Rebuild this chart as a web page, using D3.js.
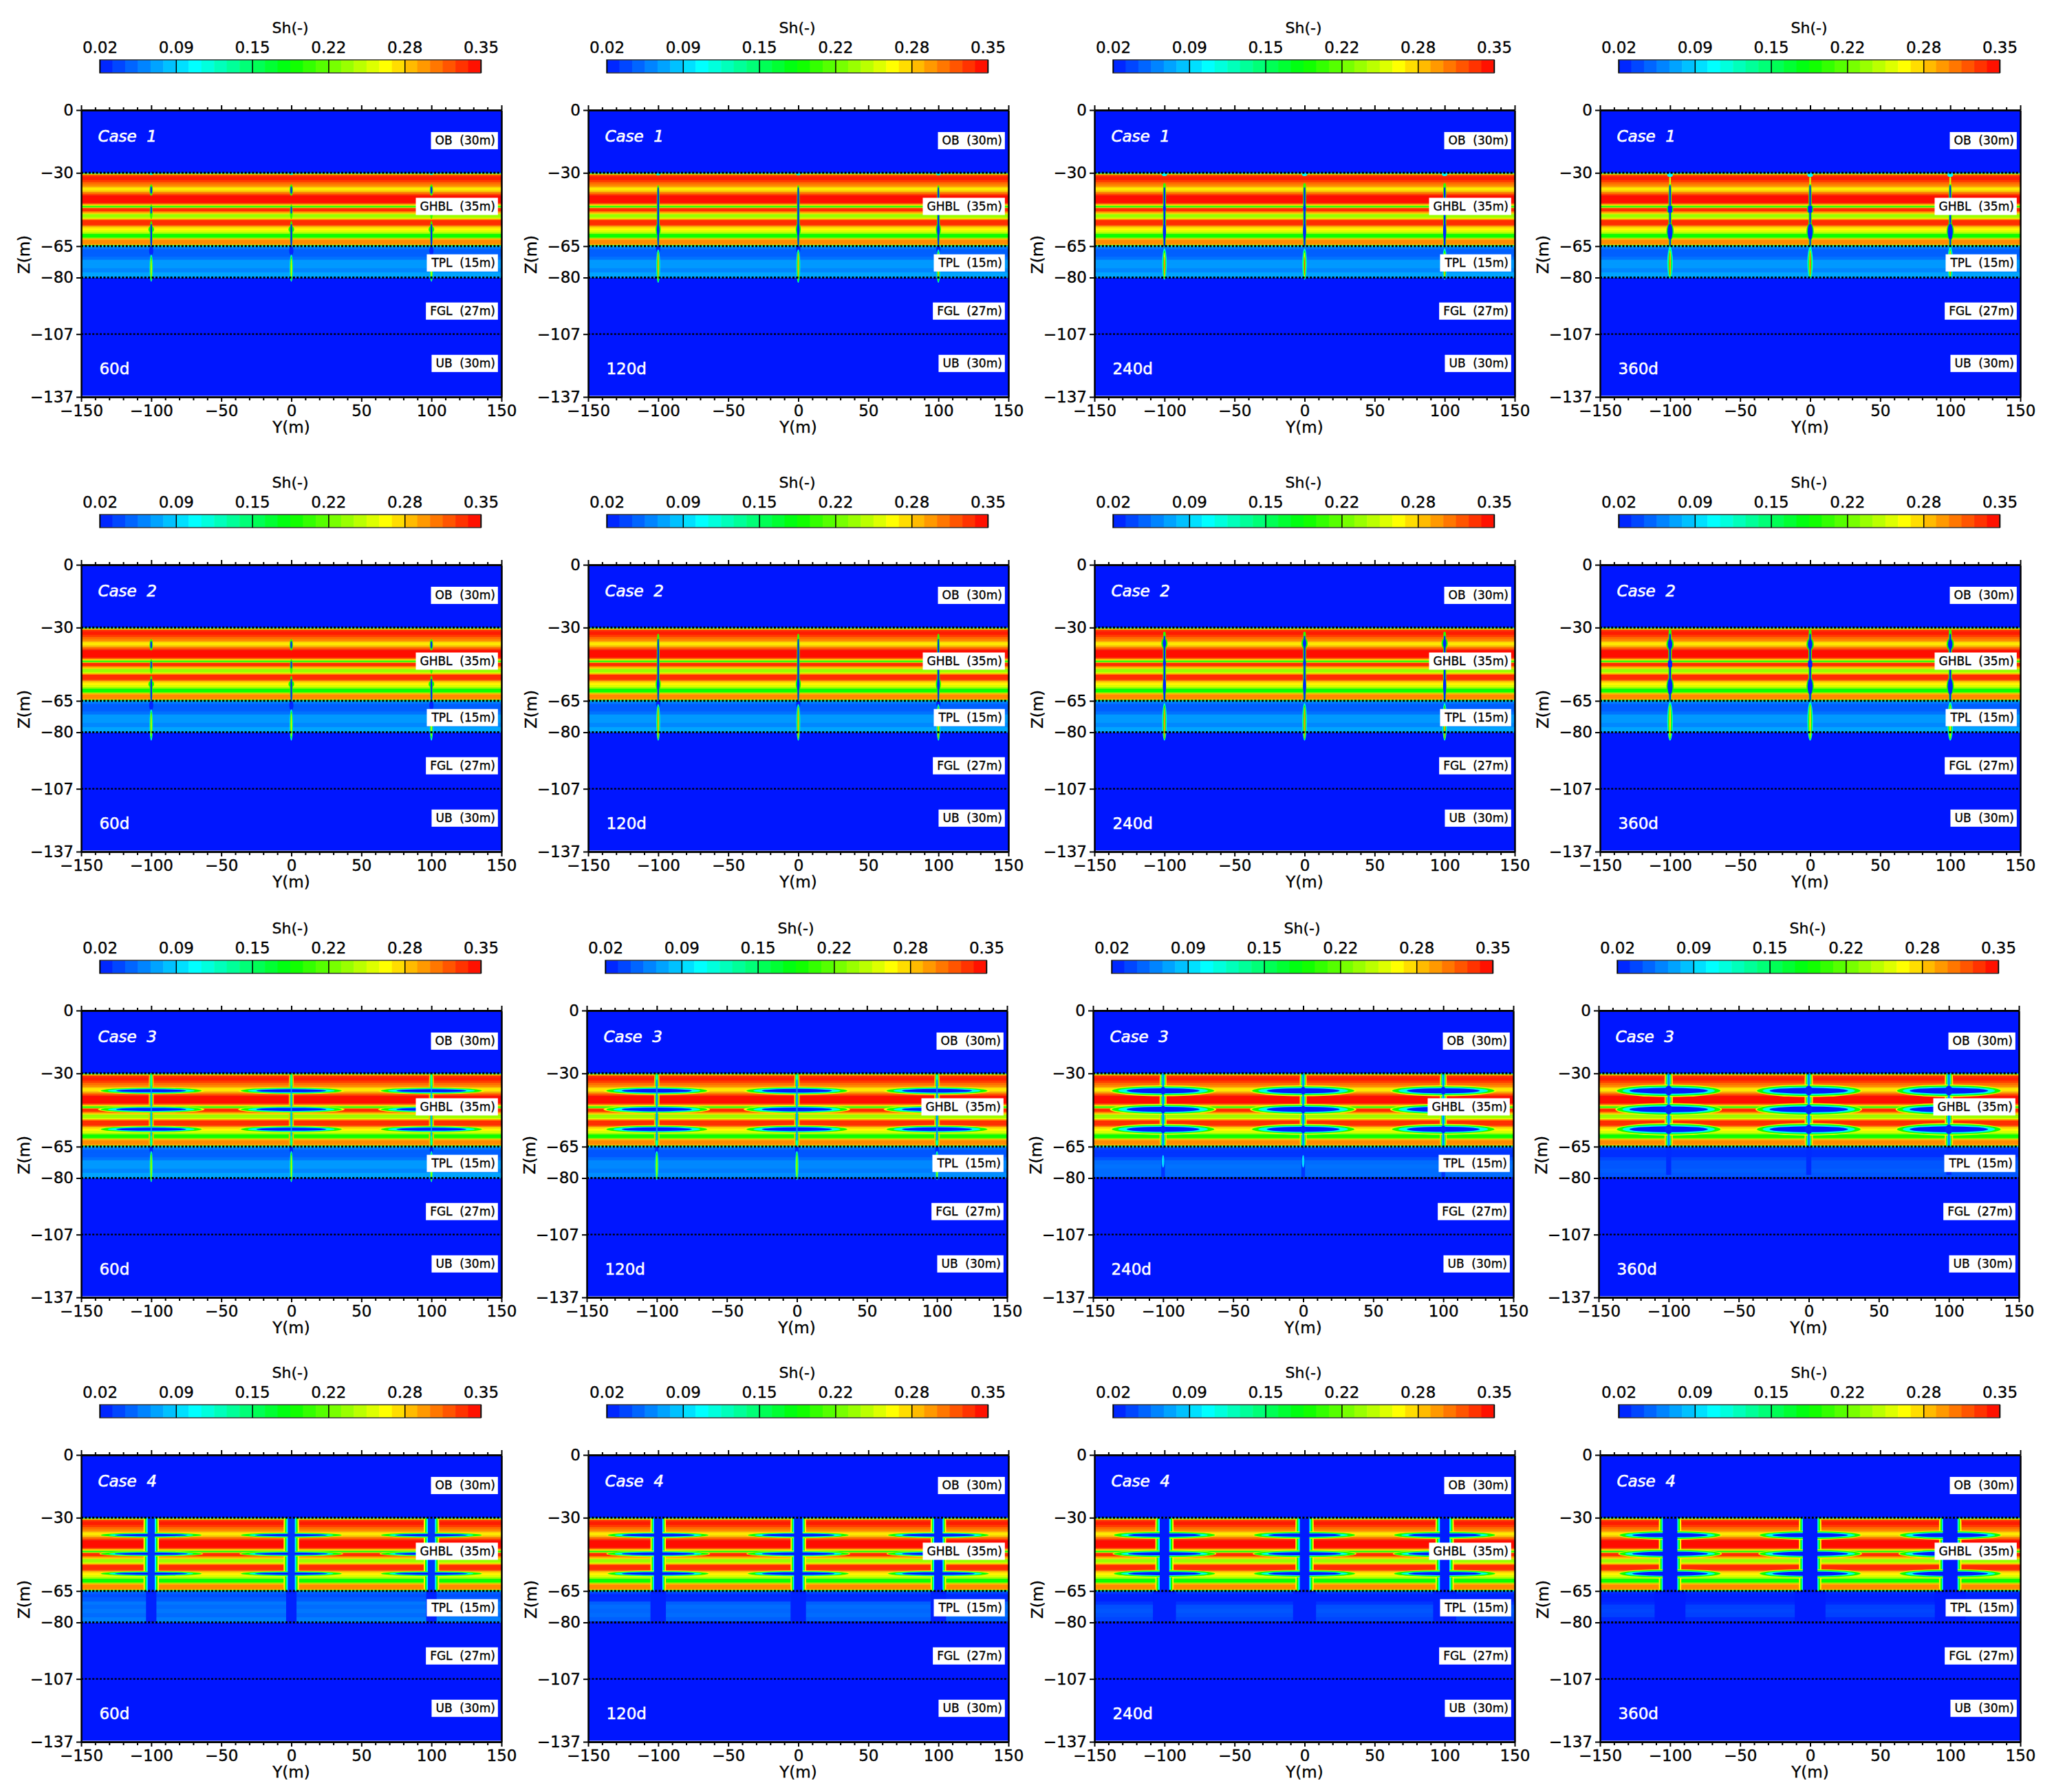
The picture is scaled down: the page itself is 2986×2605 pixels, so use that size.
<!DOCTYPE html>
<html>
<head>
<meta charset="utf-8">
<script src="https://cdn.jsdelivr.net/npm/d3@7"></script>
<style>
body { margin: 0; background: #fff; }
text { font-family: "DejaVu Sans", sans-serif; fill: #000; stroke: #000; stroke-width: 0.35px; }
.layer text, .layer { white-space: pre; }
</style>
</head>
<body>
<svg id="chart" width="2986" height="2605"></svg>
<script>
var caseNames = ["Case  1", "Case  2", "Case  3", "Case  4"];
var dayNames = ["60d", "120d", "240d", "360d"];
var xTicks = [-150, -100, -50, 0, 50, 100, 150];
var xMinor = [-140, -130, -120, -110, -90, -80, -70, -60, -40, -30, -20, -10, 10, 20, 30, 40, 60, 70, 80, 90, 110, 120, 130, 140];
var zTicks = [0, -30, -65, -80, -107, -137];
var barTicks = [0.02, 0.086, 0.152, 0.218, 0.284, 0.35];
var colorStops = [0.02, 0.1025, 0.185, 0.2675, 0.35];
var colorRange = ["#0018ff", "#00ffff", "#00ff00", "#ffff00", "#ff0000"];
var wellY = [-100, 0, 100];
var layerNames = ["OB  (30m)", "GHBL  (35m)", "TPL  (15m)", "FGL  (27m)", "UB  (30m)"];
var layerLabelZ = [-14.6, -46, -73, -96, -121];
var contactZ = [-30, -65, -80, -107];

// GHBL saturation bands, top of each band and Sh below it
var ghblTop = [-30, -30.3, -30.7, -31.1, -32, -33.5, -34.5, -35.5, -36.5, -37, -38.5, -39.2, -40, -40.8, -44.4, -45, -45.6, -45.9, -46.4, -46.8, -48.3, -48.9, -49.6, -50, -51.4, -51.9, -52.5, -55, -55.6, -56.5, -57.5, -58.5, -59.2, -60.8, -61.3, -62, -64, -64.5, -64.8];
var ghblSh = [0.13, 0.24, 0.30, 0.335, 0.34, 0.33, 0.315, 0.305, 0.29, 0.275, 0.285, 0.31, 0.33, 0.345, 0.32, 0.285, 0.24, 0.18, 0.25, 0.335, 0.31, 0.285, 0.245, 0.235, 0.26, 0.30, 0.335, 0.31, 0.28, 0.27, 0.255, 0.235, 0.19, 0.22, 0.29, 0.305, 0.29, 0.2, 0.12];

// TPL bands, one Sh list per panel
var tplTop = [-65, -65.5, -66.5, -68, -70, -71.5, -73.5, -75.5, -77.5, -79.5];
var tplFull = [0.08, 0.055, 0.045, 0.046, 0.052, 0.066, 0.066, 0.06, 0.07, 0.072];
var tplC3d120 = [0.075, 0.05, 0.042, 0.042, 0.05, 0.06, 0.06, 0.056, 0.062, 0.055];
var tplC3d240 = [0.07, 0.035, 0.03, 0.03, 0.04, 0.05, 0.052, 0.05, 0.05, 0.025];
var tplC3d360 = [0.06, 0.032, 0.028, 0.028, 0.036, 0.042, 0.042, 0.044, 0.042, 0.024];
var tplC4d60 = [0.065, 0.045, 0.04, 0.044, 0.054, 0.05, 0.054, 0.05, 0.056, 0.06];
var tplC4d120 = [0.065, 0.035, 0.026, 0.028, 0.045, 0.05, 0.048, 0.05, 0.045, 0.024];
var tplC4d240 = [0.055, 0.03, 0.024, 0.024, 0.03, 0.04, 0.042, 0.04, 0.036, 0.023];
var tplC4d360 = [0.05, 0.026, 0.023, 0.023, 0.026, 0.034, 0.036, 0.034, 0.026, 0.023];
var panelTpl = [
  [tplFull, tplFull, tplFull, tplFull],
  [tplFull, tplFull, tplFull, tplFull],
  [tplFull, tplC3d120, tplC3d240, tplC3d360],
  [tplC4d60, tplC4d120, tplC4d240, tplC4d360]
];

// low Sh patches at each well: half width, z top, z bottom, Sh, corner rounding
var c1d60 = [[1.3, -30, -31, 0.12, 1], [1.2, -35.5, -41, 0.2, 1], [0.6, -36.5, -40, 0.025, 1], [1, -45, -52, 0.2, 1], [0.5, -46, -49.5, 0.025, 1], [1.1, -53, -65, 0.2, 1], [2, -55.5, -58.5, 0.19, 1], [0.55, -54.5, -64.8, 0.025, 0.5], [1.5, -65, -69.5, 0.025, 1], [1.2, -69, -82, 0.12, 1], [0.8, -70, -81.5, 0.19, 1], [0.35, -71, -80.5, 0.27, 1]];
var c1d120 = [[1.5, -30, -31.2, 0.12, 1], [1, -36, -65, 0.2, 0.6], [1.8, -54, -60, 0.19, 1], [0.55, -37, -65, 0.025, 0.5], [0.9, -54.5, -60, 0.025, 1], [1.5, -65, -68, 0.025, 1], [1.4, -66.5, -82.5, 0.12, 1], [0.9, -67.5, -82, 0.19, 1], [0.45, -68, -81, 0.29, 1]];
var c1d240 = [[2, -30, -31.5, 0.1, 1], [1.1, -35, -65, 0.2, 0.4], [0.6, -37, -65, 0.025, 0.3], [1.1, -54, -62, 0.025, 1], [1, -45.5, -48.5, 0.025, 1], [1.6, -66, -81, 0.12, 1], [1, -67, -80.5, 0.19, 1], [0.5, -68, -80, 0.27, 1], [0.25, -70, -79, 0.33, 1]];
var c1d360 = [[2, -30, -32, 0.1, 1], [0.6, -32, -36, 0.25, 0.3], [1.1, -35.5, -65, 0.2, 0.4], [0.55, -36, -65, 0.03, 0.3], [2.2, -45.5, -49, 0.19, 0.6], [1.5, -45.7, -49, 0.025, 0.6], [2.6, -54, -62, 0.19, 1], [1.8, -54.2, -62, 0.025, 1], [0.8, -65, -67.5, 0.12, 0.3], [2, -65.5, -80.5, 0.12, 1], [1.2, -66.5, -80, 0.18, 1], [0.6, -67, -79.5, 0.27, 1], [0.25, -68, -79, 0.34, 1]];
var c2d60 = [[1.2, -35.5, -41, 0.2, 1], [0.6, -36.5, -40, 0.025, 1], [1, -45, -52, 0.2, 1], [0.5, -46, -49.5, 0.025, 1], [1.1, -53, -65, 0.2, 1], [2, -55.5, -58.5, 0.19, 1], [0.55, -54.5, -64.8, 0.025, 0.5], [1.5, -65, -69.5, 0.025, 1], [1.2, -69, -84, 0.12, 1], [0.8, -70, -83, 0.19, 1], [0.35, -71, -82, 0.27, 1]];
var c2d120 = [[1, -33, -65, 0.2, 0.6], [1.8, -54, -60, 0.19, 1], [0.55, -35.5, -65, 0.025, 0.5], [0.9, -54.5, -60, 0.025, 1], [1.5, -65, -68, 0.025, 1], [1.4, -66.5, -84, 0.12, 1], [0.9, -67.5, -83.5, 0.19, 1], [0.45, -68, -83, 0.29, 1]];
var c2d240 = [[1.1, -32, -65, 0.2, 0.4], [2.2, -35, -40, 0.19, 1], [0.6, -34, -65, 0.025, 0.3], [1.1, -54, -62, 0.025, 1], [1.2, -35.5, -39.5, 0.025, 1], [1, -45.5, -48.5, 0.025, 1], [1.6, -66, -84, 0.12, 1], [1, -67, -83.5, 0.19, 1], [0.5, -68, -83, 0.3, 1]];
var c2d360 = [[1.2, -31, -65, 0.2, 0.4], [2.6, -35, -41, 0.19, 1], [2.6, -54, -62, 0.19, 1], [0.6, -33, -65, 0.025, 0.3], [1.6, -35.5, -40.5, 0.025, 1], [1.5, -45.7, -49, 0.025, 0.6], [1.8, -54.2, -62, 0.025, 1], [2, -65.5, -84, 0.12, 1], [1.3, -66.5, -83.5, 0.19, 1], [0.6, -67, -83, 0.28, 1]];
var c3d60 = [[1.8, -30.4, -65, 0.29, 0.3], [1, -30, -65, 0.2, 0.3], [0.55, -30.5, -65, 0.13, 0.3], [1.2, -65, -68, 0.025, 1], [1.1, -67, -82, 0.12, 1], [0.7, -68, -81.5, 0.19, 1], [0.3, -69, -81, 0.26, 1]];
var c3d120 = [[2, -30.4, -65, 0.29, 0.3], [1.2, -30, -65, 0.2, 0.3], [0.7, -30.5, -65, 0.12, 0.3], [1.2, -65, -68, 0.025, 1], [1.2, -67, -81, 0.12, 1], [0.7, -68, -80.5, 0.19, 1], [0.3, -69, -80, 0.26, 1]];
var c3d240 = [[2.5, -30.2, -65, 0.28, 0.2], [1.7, -30.2, -65, 0.2, 0.1], [1.1, -30, -65, 0.12, 0.1], [0.6, -65, -68, 0.03, 0.1], [1.3, -68, -80, 0.03, 0.2], [0.9, -69, -75, 0.09, 1]];
var c3d360 = [[3, -30.2, -65, 0.28, 0.2], [2, -30.2, -65, 0.2, 0.1], [1.3, -30, -65, 0.12, 0.1], [1.8, -65, -78.5, 0.026, 0.1]];
var c4d60 = [[3.7, -65, -80, 0.024, 0.1], [5.5, -30.2, -65, 0.27, 0.12], [4.5, -30.2, -65, 0.19, 0.1], [3.5, -30, -65, 0.1, 0.05]];
var c4d120 = [[5.5, -65, -80, 0.024, 0.1], [5.5, -30.2, -65, 0.27, 0.12], [4.6, -30.2, -65, 0.19, 0.1], [3.8, -30, -65, 0.1, 0.05]];
var c4d240 = [[8.2, -65, -80, 0.023, 0.1], [6.5, -30.2, -65, 0.27, 0.12], [5.6, -30.2, -65, 0.19, 0.1], [4.5, -30, -65, 0.1, 0.05]];
var c4d360 = [[11, -65, -80, 0.022, 0.1], [8, -30.2, -65, 0.27, 0.12], [7, -30.2, -65, 0.19, 0.1], [6, -30, -65, 0.1, 0.05]];
var panelUnder = [
  [c1d60, c1d120, c1d240, c1d360],
  [c2d60, c2d120, c2d240, c2d360],
  [c3d60, c3d120, c3d240, c3d360],
  [c4d60, c4d120, c4d240, c4d360]
];

// lenses around the wells at these depths: half length, half thickness, Sh
var lensZ = [-38.3, -47.2, -56.7];
var lensC3d60 = [[38, 1.7, 0.26], [36, 1.4, 0.19], [31, 1.1, 0.11], [25, 0.75, 0.022]];
var lensC3d120 = [[38, 2, 0.26], [36, 1.6, 0.19], [31, 1.3, 0.11], [25, 0.9, 0.022]];
var lensC3d240 = [[38, 2.6, 0.26], [36.5, 2.1, 0.19], [32, 1.7, 0.11], [26, 1.2, 0.022]];
var lensC3d360 = [[38, 3, 0.26], [37, 2.5, 0.19], [33, 2, 0.11], [28, 1.4, 0.022]];
var lensC4d60 = [[37, 1.3, 0.26], [36, 1.1, 0.19], [30, 0.85, 0.11], [26, 0.6, 0.022]];
var lensC4d120 = [[37, 1.5, 0.26], [36, 1.2, 0.19], [31, 1, 0.11], [26, 0.7, 0.022]];
var lensC4d240 = [[37, 1.8, 0.26], [36, 1.5, 0.19], [31, 1.1, 0.11], [26, 0.8, 0.022]];
var lensC4d360 = [[37, 2.2, 0.26], [36, 1.8, 0.19], [32, 1.4, 0.11], [27, 1, 0.022]];
var panelLens = [
  [[], [], [], []],
  [[], [], [], []],
  [lensC3d60, lensC3d120, lensC3d240, lensC3d360],
  [lensC4d60, lensC4d120, lensC4d240, lensC4d360]
];

// well cores drawn over the lenses
var overC3d60 = [[0.4, -36, -60, 0.07, 0.3]];
var overC3d120 = [[0.5, -33, -62, 0.06, 0.3]];
var overC3d240 = [[0.6, -30, -65, 0.06, 0.1], [2, -36.5, -40, 0.025, 1], [2, -45.5, -49, 0.025, 1], [2, -55, -58.5, 0.025, 1]];
var overC3d360 = [[0.7, -30, -65, 0.06, 0.1], [2.6, -36, -40.5, 0.025, 1], [2.6, -45, -49.5, 0.025, 1], [2.6, -54.5, -59, 0.025, 1]];
var overC4d60 = [[2.5, -30, -65, 0.03, 0]];
var overC4d120 = [[3, -30, -65, 0.025, 0]];
var overC4d240 = [[3.4, -30, -65, 0.022, 0]];
var overC4d360 = [[5.2, -30, -65, 0.022, 0]];
var panelOver = [
  [[], [], [], []],
  [[], [], [], []],
  [overC3d60, overC3d120, overC3d240, overC3d360],
  [overC4d60, overC4d120, overC4d240, overC4d360]
];

var colLeft = [118, 855, 1591, 2326];
var rowTop = [160, 821, 1469, 2115];
var rowShift = [0, 0, -2, 0];
var panelW = 611;
var panelH = 417;

var svg = d3.select("#chart");
var color = d3.scaleLinear().domain(colorStops).range(colorRange).clamp(true);

var defs = svg.append("defs");
defs.append("filter").attr("id", "soft").append("feGaussianBlur").attr("stdDeviation", 0.7);

function drawPatch(g, x, z, y0, row) {
  var left = x(y0 - row[0]);
  var w = x(y0 + row[0]) - left;
  var h = z(row[2]) - z(row[1]);
  g.append("rect")
    .attr("x", left).attr("y", z(row[1]))
    .attr("width", w).attr("height", h)
    .attr("rx", w / 2 * row[4]).attr("ry", h / 2 * row[4])
    .attr("fill", color(row[3]));
}

function drawBands(g, x, z, tops, values, end) {
  tops.forEach(function(t, i) {
    var next = i + 1 < tops.length ? tops[i + 1] : end;
    g.append("rect")
      .attr("x", x(-150)).attr("y", z(t))
      .attr("width", x(150) - x(-150)).attr("height", z(next) - z(t) + 0.5)
      .attr("fill", color(values[i]));
  });
}

function drawField(g, x, z, c, d) {
  var clipId = "clip" + c + d;
  defs.append("clipPath").attr("id", clipId).append("rect")
    .attr("x", x(-150)).attr("y", z(-0.5))
    .attr("width", x(150) - x(-150)).attr("height", z(-136.5) - z(-0.5));

  var field = g.append("g").attr("clip-path", "url(#" + clipId + ")")
    .append("g").attr("filter", "url(#soft)");
  field.append("rect")
    .attr("x", x(-150) - 10).attr("y", z(0) - 10)
    .attr("width", x(150) - x(-150) + 20).attr("height", z(-137) - z(0) + 20)
    .attr("fill", color(0.02));
  drawBands(field, x, z, ghblTop, ghblSh, -65);
  drawBands(field, x, z, tplTop, panelTpl[c][d], -80);

  wellY.forEach(function(y0) {
    panelUnder[c][d].forEach(function(row) {
      drawPatch(field, x, z, y0, row);
    });
  });
  wellY.forEach(function(y0) {
    lensZ.forEach(function(lz) {
      panelLens[c][d].forEach(function(l) {
        drawPatch(field, x, z, y0, [l[0], lz + l[1], lz - l[1], l[2], 1]);
      });
    });
  });
  wellY.forEach(function(y0) {
    panelOver[c][d].forEach(function(row) {
      drawPatch(field, x, z, y0, row);
    });
  });
}

function drawAxes(g, x, z, left, top) {
  var bottom = top + panelH;
  var right = left + panelW;

  function styleAxis(a) {
    a.selectAll("path").attr("stroke", "#000").attr("stroke-width", 2.5);
    a.selectAll("line").attr("stroke", "#000").attr("stroke-width", 2);
    a.selectAll("text").style("font-size", "23px").attr("fill", "#000");
  }

  g.append("g").attr("transform", "translate(0," + bottom + ")")
    .call(d3.axisBottom(x).tickValues(xMinor).tickFormat("").tickSize(5).tickSizeOuter(0)).call(styleAxis);
  g.append("g").attr("transform", "translate(0," + bottom + ")")
    .call(d3.axisBottom(x).tickValues(xTicks).tickSize(7).tickSizeOuter(0).tickPadding(5)).call(styleAxis);
  g.append("g").attr("transform", "translate(0," + top + ")")
    .call(d3.axisTop(x).tickValues(xMinor).tickFormat("").tickSize(4).tickSizeOuter(0)).call(styleAxis);
  g.append("g").attr("transform", "translate(0," + top + ")")
    .call(d3.axisTop(x).tickValues(xTicks).tickFormat("").tickSize(7).tickSizeOuter(0)).call(styleAxis);
  g.append("g").attr("transform", "translate(" + left + ",0)")
    .call(d3.axisLeft(z).tickValues(zTicks).tickFormat(d3.format("d")).tickSize(7).tickSizeOuter(0).tickPadding(4)).call(styleAxis);
  g.append("g").attr("transform", "translate(" + right + ",0)")
    .call(d3.axisRight(z).tickValues([]).tickSize(0).tickSizeOuter(0)).call(styleAxis);

  g.append("text").attr("x", (left + right) / 2).attr("y", bottom + 52)
    .attr("text-anchor", "middle").style("font-size", "23px").text("Y(m)");
  g.append("text").attr("transform", "translate(" + (left - 75) + "," + (top + 210) + ") rotate(-90)")
    .attr("text-anchor", "middle").style("font-size", "23px").text("Z(m)");
}

function drawColorBar(g, left, top) {
  var barX = d3.scaleLinear().domain([0.02, 0.35]).range([left + 27, left + 581]);
  var barTop = top - 73;
  var barH = 19;
  var levels = d3.range(30);
  g.selectAll("rect.level").data(levels).enter().append("rect")
    .attr("class", "level")
    .attr("x", function(i) { return barX(0.02 + i * 0.011); })
    .attr("y", barTop)
    .attr("width", barX(0.031) - barX(0.02) + 0.5)
    .attr("height", barH)
    .attr("fill", function(i) { return color(0.02 + (i + 0.5) * 0.011); });
  g.append("rect").attr("x", barX(0.02)).attr("y", barTop)
    .attr("width", barX(0.35) - barX(0.02)).attr("height", barH)
    .attr("fill", "none").attr("stroke", "#333").attr("stroke-width", 1.5);

  var ax = g.append("g").attr("transform", "translate(0," + (barTop + barH) + ")")
    .call(d3.axisTop(barX).tickValues(barTicks).tickFormat(d3.format(".2f")).tickSize(barH).tickSizeOuter(0).tickPadding(10));
  ax.select("path").remove();
  ax.selectAll("line").attr("stroke", "#000").attr("stroke-width", 1.5);
  ax.selectAll("text").style("font-size", "23px").attr("fill", "#000");

  g.append("text").attr("x", barX(0.185)).attr("y", barTop - 39)
    .attr("text-anchor", "middle").style("font-size", "22px").text("Sh(-)");
}

function drawLabels(g, x, z, c, d) {
  layerNames.forEach(function(name, i) {
    var item = g.append("g").attr("class", "layer");
    var t = item.append("text")
      .attr("x", x(145.5)).attr("y", z(layerLabelZ[i]) + 6)
      .attr("text-anchor", "end").style("font-size", "17px").text(name);
    var box = t.node().getBBox();
    item.insert("rect", "text")
      .attr("x", box.x - 6).attr("y", z(layerLabelZ[i]) - 12.5)
      .attr("width", box.width + 10).attr("height", 25)
      .attr("fill", "#fff");
  });
  g.append("text").attr("x", x(-138)).attr("y", z(-15))
    .style("font-size", "23px").style("font-style", "italic")
    .style("fill", "#fff").style("stroke", "#fff").style("stroke-width", "0.6px")
    .style("white-space", "pre").text(caseNames[c]);
  g.append("text").attr("x", x(-137)).attr("y", z(-126))
    .style("font-size", "23px")
    .style("fill", "#fff").style("stroke", "#fff").style("stroke-width", "0.5px")
    .text(dayNames[d]);
}

function drawPanel(c, d) {
  var left = colLeft[d] + (d > 0 ? rowShift[c] : 0);
  var top = rowTop[c];
  var g = svg.append("g");
  var x = d3.scaleLinear().domain([-150, 150]).range([left, left + panelW]);
  var z = d3.scaleLinear().domain([0, -137]).range([top, top + panelH]);

  drawColorBar(g, left, top);
  drawField(g, x, z, c, d);

  g.selectAll("line.contact").data(contactZ).enter().append("line")
    .attr("class", "contact")
    .attr("x1", x(-150)).attr("x2", x(150))
    .attr("y1", function(v) { return z(v); })
    .attr("y2", function(v) { return z(v); })
    .attr("stroke", "#000")
    .attr("stroke-width", function(v) { return v < -80 ? 2.2 : 3; })
    .attr("stroke-dasharray", "3 2.4");

  drawLabels(g, x, z, c, d);
  drawAxes(g, x, z, left, top);
}

for (var c = 0; c < caseNames.length; c++) {
  for (var d = 0; d < dayNames.length; d++) {
    drawPanel(c, d);
  }
}
</script>
</body>
</html>
